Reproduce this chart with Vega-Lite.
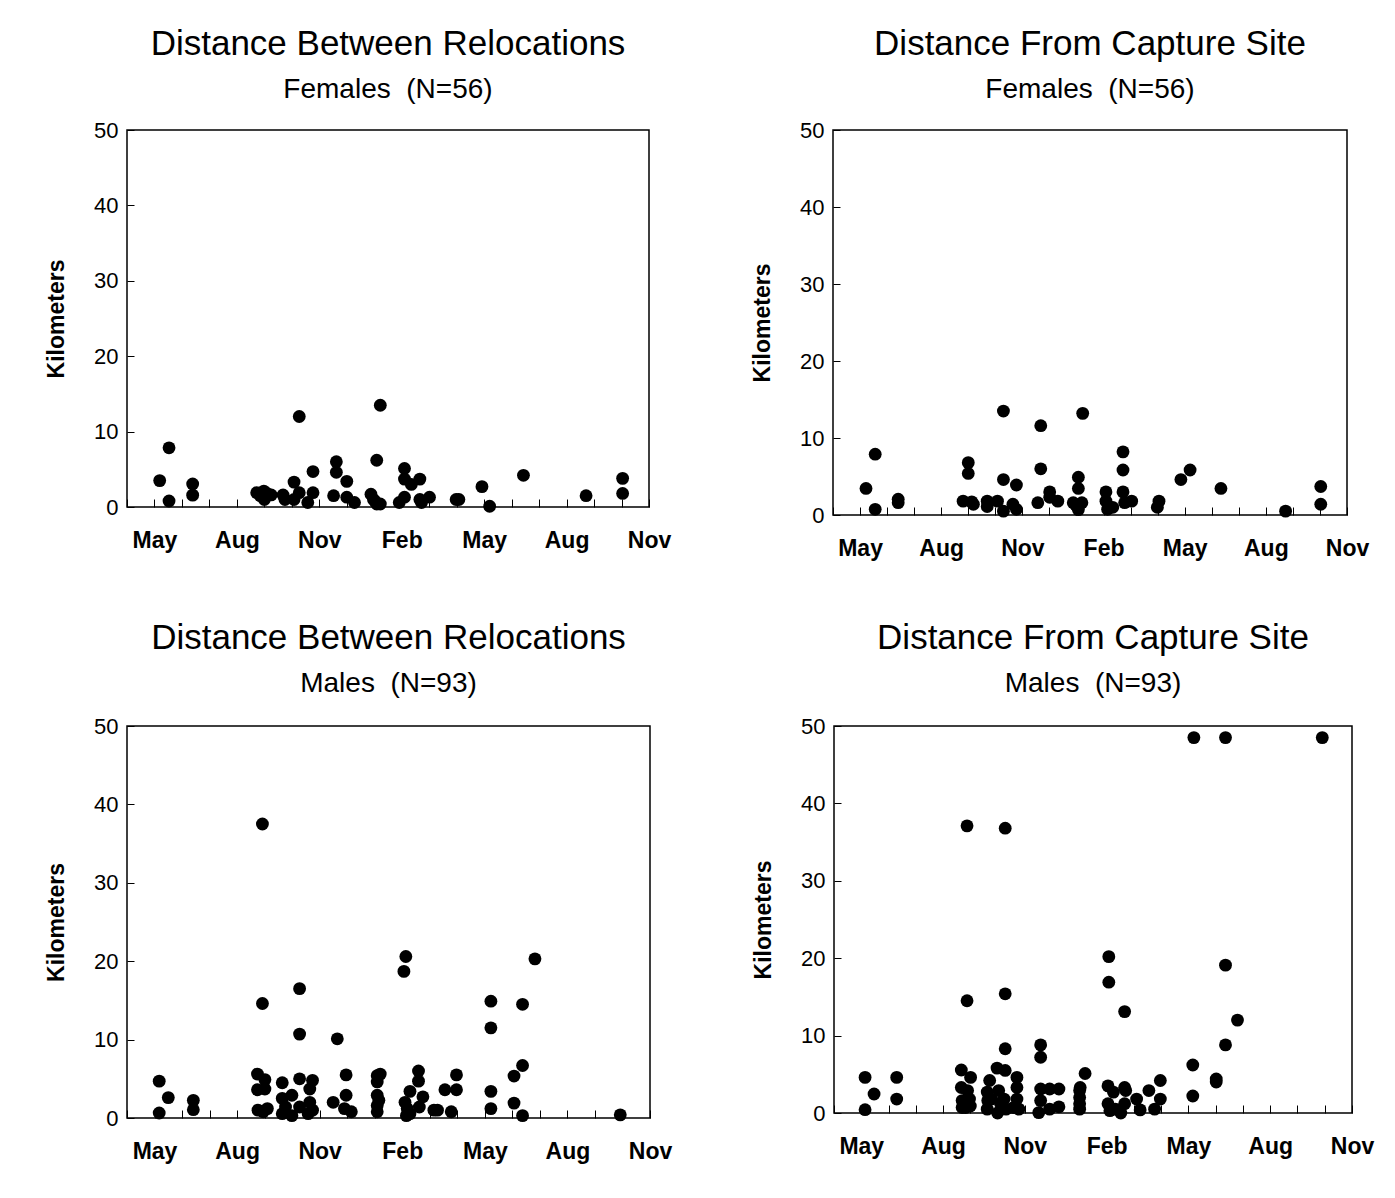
{
  "$schema": "https://vega.github.io/schema/vega-lite/v6.json",
  "background": "white",
  "padding": {"left": 44, "top": 26, "right": 10, "bottom": 10},
  "datasets": {
    "femRel": [
      {"month": 1.19, "km": 3.5}, {"month": 1.53, "km": 7.85}, {"month": 1.53, "km": 0.8}, {"month": 2.39, "km": 3.05}, {"month": 2.39, "km": 1.57},
      {"month": 4.72, "km": 1.9}, {"month": 4.85, "km": 1.5}, {"month": 4.98, "km": 2.1}, {"month": 5.1, "km": 1.8}, {"month": 5.25, "km": 1.6}, {"month": 5.0, "km": 1.0},
      {"month": 5.68, "km": 1.6}, {"month": 5.75, "km": 1.0}, {"month": 6.08, "km": 3.3}, {"month": 6.08, "km": 1.0}, {"month": 6.27, "km": 1.9}, {"month": 6.27, "km": 12.0}, {"month": 6.58, "km": 0.6}, {"month": 6.77, "km": 4.7}, {"month": 6.77, "km": 1.9},
      {"month": 7.52, "km": 1.5}, {"month": 7.62, "km": 6.0}, {"month": 7.62, "km": 4.6}, {"month": 8.0, "km": 3.4}, {"month": 8.0, "km": 1.3}, {"month": 8.28, "km": 0.6},
      {"month": 8.88, "km": 1.7}, {"month": 8.97, "km": 1.0}, {"month": 9.09, "km": 0.4}, {"month": 9.22, "km": 0.4}, {"month": 9.09, "km": 6.2}, {"month": 9.22, "km": 13.5}, {"month": 9.02, "km": 0.8},
      {"month": 9.91, "km": 0.6}, {"month": 10.1, "km": 1.3}, {"month": 10.1, "km": 5.1}, {"month": 10.1, "km": 3.7}, {"month": 10.35, "km": 3.0}, {"month": 10.66, "km": 3.7}, {"month": 10.66, "km": 1.0}, {"month": 10.72, "km": 0.6}, {"month": 11.01, "km": 1.3},
      {"month": 11.98, "km": 1.0}, {"month": 12.08, "km": 1.0}, {"month": 12.92, "km": 2.7}, {"month": 13.2, "km": 0.1}, {"month": 14.43, "km": 4.2}, {"month": 16.71, "km": 1.5}, {"month": 18.04, "km": 3.8}, {"month": 18.04, "km": 1.8}
    ],
    "femCap": [
      {"month": 1.22, "km": 3.45}, {"month": 1.56, "km": 7.9}, {"month": 1.56, "km": 0.74}, {"month": 2.41, "km": 2.05}, {"month": 2.41, "km": 1.6},
      {"month": 5.0, "km": 6.8}, {"month": 5.0, "km": 5.4}, {"month": 4.81, "km": 1.8}, {"month": 5.13, "km": 1.7}, {"month": 5.19, "km": 1.4},
      {"month": 5.7, "km": 1.8}, {"month": 5.7, "km": 1.1}, {"month": 6.08, "km": 1.8}, {"month": 6.3, "km": 13.5}, {"month": 6.3, "km": 4.6}, {"month": 6.3, "km": 0.5}, {"month": 6.65, "km": 1.4}, {"month": 6.78, "km": 0.74}, {"month": 6.78, "km": 3.9},
      {"month": 7.57, "km": 1.6}, {"month": 7.68, "km": 11.6}, {"month": 7.68, "km": 6.0}, {"month": 8.01, "km": 3.0}, {"month": 8.01, "km": 2.3}, {"month": 8.31, "km": 1.8},
      {"month": 8.88, "km": 1.6}, {"month": 9.0, "km": 1.2}, {"month": 9.07, "km": 0.7}, {"month": 9.2, "km": 1.6}, {"month": 9.07, "km": 4.9}, {"month": 9.07, "km": 3.45}, {"month": 9.23, "km": 13.2},
      {"month": 10.09, "km": 3.0}, {"month": 10.09, "km": 1.8}, {"month": 10.15, "km": 0.74}, {"month": 10.34, "km": 1.0}, {"month": 10.72, "km": 8.2}, {"month": 10.72, "km": 5.85}, {"month": 10.72, "km": 3.0}, {"month": 10.78, "km": 1.6}, {"month": 11.04, "km": 1.8},
      {"month": 12.05, "km": 1.8}, {"month": 11.99, "km": 1.0}, {"month": 12.86, "km": 4.6}, {"month": 13.2, "km": 5.85}, {"month": 14.34, "km": 3.45}, {"month": 16.73, "km": 0.5}, {"month": 18.03, "km": 3.7}, {"month": 18.03, "km": 1.4}
    ],
    "maleRel": [
      {"month": 1.17, "km": 4.7}, {"month": 1.5, "km": 2.6}, {"month": 1.17, "km": 0.64}, {"month": 2.41, "km": 2.25}, {"month": 2.41, "km": 1.06},
      {"month": 4.92, "km": 37.5}, {"month": 4.92, "km": 14.6}, {"month": 4.74, "km": 5.6}, {"month": 4.74, "km": 3.6}, {"month": 5.01, "km": 4.9}, {"month": 5.01, "km": 3.7}, {"month": 4.76, "km": 1.0}, {"month": 4.95, "km": 0.8}, {"month": 5.1, "km": 1.2},
      {"month": 5.64, "km": 4.5}, {"month": 5.64, "km": 2.5}, {"month": 5.64, "km": 0.55}, {"month": 5.76, "km": 1.4}, {"month": 5.99, "km": 2.9}, {"month": 5.99, "km": 0.3},
      {"month": 6.27, "km": 16.5}, {"month": 6.27, "km": 10.7}, {"month": 6.27, "km": 5.0}, {"month": 6.27, "km": 1.4}, {"month": 6.64, "km": 3.7}, {"month": 6.74, "km": 4.8}, {"month": 6.64, "km": 2.0}, {"month": 6.74, "km": 1.0}, {"month": 6.58, "km": 0.55},
      {"month": 7.64, "km": 10.1}, {"month": 7.49, "km": 2.0}, {"month": 7.96, "km": 5.5}, {"month": 7.96, "km": 2.9}, {"month": 7.9, "km": 1.2}, {"month": 8.15, "km": 0.8},
      {"month": 9.09, "km": 5.4}, {"month": 9.2, "km": 5.6}, {"month": 9.09, "km": 4.6}, {"month": 9.09, "km": 2.9}, {"month": 9.15, "km": 2.25}, {"month": 9.09, "km": 1.6}, {"month": 9.09, "km": 0.8},
      {"month": 10.13, "km": 20.6}, {"month": 10.06, "km": 18.7}, {"month": 10.1, "km": 2.0}, {"month": 10.18, "km": 1.2}, {"month": 10.15, "km": 0.3}, {"month": 10.28, "km": 0.55}, {"month": 10.28, "km": 3.4}, {"month": 10.59, "km": 6.0}, {"month": 10.59, "km": 4.7}, {"month": 10.75, "km": 2.7}, {"month": 10.62, "km": 1.4},
      {"month": 11.15, "km": 1.0}, {"month": 11.28, "km": 1.0}, {"month": 11.55, "km": 3.6}, {"month": 11.97, "km": 5.5}, {"month": 11.97, "km": 3.6}, {"month": 11.78, "km": 0.8},
      {"month": 13.22, "km": 14.9}, {"month": 13.22, "km": 11.5}, {"month": 13.22, "km": 3.4}, {"month": 13.22, "km": 1.2}, {"month": 14.06, "km": 5.35}, {"month": 14.06, "km": 1.9}, {"month": 14.37, "km": 14.5}, {"month": 14.37, "km": 6.7}, {"month": 14.37, "km": 0.3}, {"month": 14.82, "km": 20.3}, {"month": 17.92, "km": 0.4}
    ],
    "maleCap": [
      {"month": 1.14, "km": 4.6}, {"month": 1.14, "km": 0.43}, {"month": 1.47, "km": 2.45}, {"month": 2.3, "km": 4.6}, {"month": 2.3, "km": 1.8},
      {"month": 4.88, "km": 37.1}, {"month": 4.88, "km": 14.5}, {"month": 4.67, "km": 5.55}, {"month": 4.67, "km": 3.3}, {"month": 5.01, "km": 4.6}, {"month": 4.9, "km": 2.9}, {"month": 4.7, "km": 1.6}, {"month": 4.83, "km": 0.7}, {"month": 5.0, "km": 0.9}, {"month": 4.7, "km": 0.7}, {"month": 4.97, "km": 1.8},
      {"month": 5.71, "km": 4.2}, {"month": 5.62, "km": 2.7}, {"month": 5.64, "km": 1.6}, {"month": 5.62, "km": 0.5}, {"month": 5.78, "km": 1.8}, {"month": 6.0, "km": 0.0}, {"month": 5.98, "km": 5.8},
      {"month": 6.28, "km": 36.8}, {"month": 6.28, "km": 15.4}, {"month": 6.28, "km": 8.3}, {"month": 6.28, "km": 5.5}, {"month": 6.04, "km": 2.9}, {"month": 6.24, "km": 1.8}, {"month": 6.11, "km": 1.2}, {"month": 6.31, "km": 0.5},
      {"month": 6.71, "km": 4.6}, {"month": 6.71, "km": 3.3}, {"month": 6.71, "km": 1.8}, {"month": 6.78, "km": 0.5}, {"month": 6.58, "km": 0.7},
      {"month": 7.58, "km": 8.8}, {"month": 7.58, "km": 7.2}, {"month": 7.58, "km": 3.1}, {"month": 7.58, "km": 1.6}, {"month": 7.51, "km": 0.05}, {"month": 7.91, "km": 3.1}, {"month": 7.91, "km": 0.5}, {"month": 8.25, "km": 3.1}, {"month": 8.25, "km": 0.8},
      {"month": 9.21, "km": 5.1}, {"month": 9.03, "km": 3.3}, {"month": 9.01, "km": 2.9}, {"month": 9.01, "km": 2.0}, {"month": 9.01, "km": 1.2}, {"month": 9.01, "km": 0.5},
      {"month": 10.08, "km": 20.2}, {"month": 10.08, "km": 16.9}, {"month": 10.66, "km": 13.1}, {"month": 10.05, "km": 3.5}, {"month": 10.25, "km": 2.7}, {"month": 10.05, "km": 1.2}, {"month": 10.12, "km": 0.3}, {"month": 10.32, "km": 0.5}, {"month": 10.66, "km": 3.3}, {"month": 10.66, "km": 1.2}, {"month": 10.52, "km": 0.0}, {"month": 10.7, "km": 2.9},
      {"month": 11.1, "km": 1.8}, {"month": 11.23, "km": 0.4}, {"month": 11.55, "km": 2.9}, {"month": 11.76, "km": 0.5}, {"month": 11.97, "km": 4.2}, {"month": 11.97, "km": 1.8},
      {"month": 13.2, "km": 48.5}, {"month": 13.16, "km": 6.2}, {"month": 13.16, "km": 2.2}, {"month": 14.02, "km": 4.4}, {"month": 14.02, "km": 4.0}, {"month": 14.36, "km": 48.5}, {"month": 14.36, "km": 19.1}, {"month": 14.36, "km": 8.8}, {"month": 14.8, "km": 12.0}, {"month": 17.91, "km": 48.5}
    ]
  },
  "vconcat": [
    {
      "hconcat": [
        {
          "title": {"text": "Distance Between Relocations", "subtitle": "Females \u00a0(N=56)"},
          "width": 522, "height": 377,
          "data": {"name": "femRel"},
          "mark": {"type": "circle", "size": 165, "opacity": 1, "color": "#000"},
          "encoding": {
            "x": {"field": "month", "type": "quantitative", "scale": {"domain": [0, 19], "nice": false, "zero": false},
                  "axis": {"title": null, "values": [0,1,2,3,4,5,6,7,8,9,10,11,12,13,14,15,16,17,18,19], "labelFlush": false, "labelOverlap": false,
                           "labelExpr": "(datum.value - 1) % 3 == 0 ? ['Apr','May','Jun','Jul','Aug','Sep','Oct','Nov','Dec','Jan','Feb','Mar'][datum.value % 12] : ''"}},
            "y": {"field": "km", "type": "quantitative", "scale": {"domain": [0, 50], "nice": false},
                  "axis": {"title": "Kilometers", "values": [0, 10, 20, 30, 40, 50], "labelFlush": false}}
          }
        },
        {
          "title": {"text": "Distance From Capture Site", "subtitle": "Females \u00a0(N=56)"},
          "width": 514, "height": 385,
          "data": {"name": "femCap"},
          "mark": {"type": "circle", "size": 165, "opacity": 1, "color": "#000"},
          "encoding": {
            "x": {"field": "month", "type": "quantitative", "scale": {"domain": [0, 19], "nice": false, "zero": false},
                  "axis": {"title": null, "values": [0,1,2,3,4,5,6,7,8,9,10,11,12,13,14,15,16,17,18,19], "labelFlush": false, "labelOverlap": false,
                           "labelExpr": "(datum.value - 1) % 3 == 0 ? ['Apr','May','Jun','Jul','Aug','Sep','Oct','Nov','Dec','Jan','Feb','Mar'][datum.value % 12] : ''"}},
            "y": {"field": "km", "type": "quantitative", "scale": {"domain": [0, 50], "nice": false},
                  "axis": {"title": "Kilometers", "values": [0, 10, 20, 30, 40, 50], "labelFlush": false}}
          }
        }
      ]
    },
    {
      "hconcat": [
        {
          "title": {"text": "Distance Between Relocations", "subtitle": "Males \u00a0(N=93)", "offset": 17},
          "width": 523, "height": 392,
          "data": {"name": "maleRel"},
          "mark": {"type": "circle", "size": 165, "opacity": 1, "color": "#000"},
          "encoding": {
            "x": {"field": "month", "type": "quantitative", "scale": {"domain": [0, 19], "nice": false, "zero": false},
                  "axis": {"title": null, "values": [0,1,2,3,4,5,6,7,8,9,10,11,12,13,14,15,16,17,18,19], "labelFlush": false, "labelOverlap": false,
                           "labelExpr": "(datum.value - 1) % 3 == 0 ? ['Apr','May','Jun','Jul','Aug','Sep','Oct','Nov','Dec','Jan','Feb','Mar'][datum.value % 12] : ''"}},
            "y": {"field": "km", "type": "quantitative", "scale": {"domain": [0, 50], "nice": false},
                  "axis": {"title": "Kilometers", "values": [0, 10, 20, 30, 40, 50], "labelFlush": false}}
          }
        },
        {
          "title": {"text": "Distance From Capture Site", "subtitle": "Males \u00a0(N=93)", "offset": 17},
          "width": 518, "height": 387,
          "data": {"name": "maleCap"},
          "mark": {"type": "circle", "size": 165, "opacity": 1, "color": "#000"},
          "encoding": {
            "x": {"field": "month", "type": "quantitative", "scale": {"domain": [0, 19], "nice": false, "zero": false},
                  "axis": {"title": null, "values": [0,1,2,3,4,5,6,7,8,9,10,11,12,13,14,15,16,17,18,19], "labelFlush": false, "labelOverlap": false,
                           "labelExpr": "(datum.value - 1) % 3 == 0 ? ['Apr','May','Jun','Jul','Aug','Sep','Oct','Nov','Dec','Jan','Feb','Mar'][datum.value % 12] : ''"}},
            "y": {"field": "km", "type": "quantitative", "scale": {"domain": [0, 50], "nice": false},
                  "axis": {"title": "Kilometers", "values": [0, 10, 20, 30, 40, 50], "labelFlush": false}}
          }
        }
      ]
    }
  ],
  "spacing": 59,
  "config": {
    "font": "Liberation Sans",
    "concat": {"spacing": 78},
    "view": {"stroke": "#000", "strokeWidth": 1.5},
    "title": {"fontSize": 35, "fontWeight": "normal", "color": "#000", "subtitleFontSize": 28, "subtitleColor": "#000", "subtitlePadding": 14, "offset": 15, "anchor": "middle", "frame": "group", "font": "Liberation Sans", "subtitleFont": "Liberation Sans"},
    "axis": {"grid": false, "domain": false, "tickColor": "#000", "labelColor": "#000", "titleColor": "#000", "labelFont": "Liberation Sans", "titleFont": "Liberation Sans"},
    "axisX": {"tickSize": -8, "labelFontSize": 23, "labelFontWeight": "bold", "labelPadding": 30},
    "axisY": {"tickSize": -7, "labelFontSize": 22, "titleFontSize": 23, "titleFontWeight": "bold", "labelPadding": 16, "titlePadding": 25}
  }
}
